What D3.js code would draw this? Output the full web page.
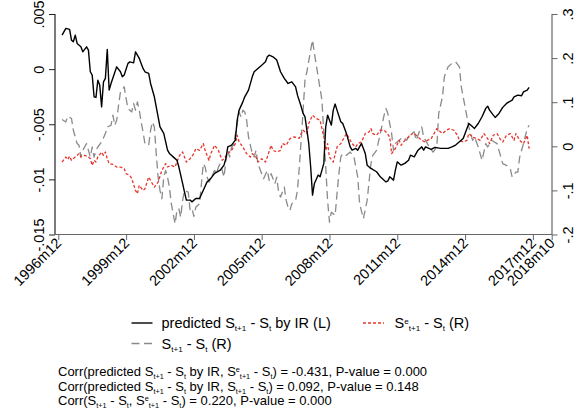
<!DOCTYPE html>
<html>
<head>
<meta charset="utf-8">
<script src="https://cdn.jsdelivr.net/npm/d3@7"></script>
<style>
  body { margin: 0; background: #fff; }
  svg { display: block; }
  text { font-family: "Liberation Sans", Arial, Helvetica, sans-serif; fill: #000; }
</style>
</head>
<body>
<svg id="chart" width="584" height="415"></svg>
<script>
// Monthly dates are Stata %tm values (1960m1 = 0); 443 = 1996m12, 705 = 2018m10.

// predicted S(t+1) - S(t) by interest rates, left axis
const predicted = [
  [445,.00308],[447,.00369],[449,.00360],[450,.00263],[451,.00248],[452,.00308],[453,.00233],
  [455,.00202],[456,.00157],[458,.00202],[459,.00172],[460,-.00024],[461,-.00054],[462,-.00251],
  [463,-.00257],[464,-.00100],[465,-.00145],[466,-.00342],[467,-.00115],[468,-.00084],[469,.00179],
  [470,-.00190],[471,-.00130],[474,.00021],[476,-.00024],[477,-.00070],[478,-.00054],[480,.00052],
  [481,.00066],[483,.00057],[484,.00157],[486,.00097],[488,.00006],[489,-.00024],[491,-.00039],
  [492,-.00130],[494,-.00251],[495,-.00342],[497,-.00523],[499,-.00583],[501,-.00735],[502,-.00765],
  [504,-.00796],[506,-.00826],[507,-.00886],[509,-.01037],[510,-.01113],[511,-.01188],[513,-.01188],
  [514,-.01204],[516,-.01173],[518,-.01173],[520,-.01098],[522,-.01023],[524,-.00991],[526,-.00946],
  [529,-.00916],[531,-.00871],[532,-.00810],[533,-.00705],[535,-.00689],[537,-.00644],[538,-.00463],
  [539,-.00372],[541,-.00297],[542,-.00251],[544,-.00190],[546,-.00070],[547,-.00024],[549,.00006],
  [551,.00036],[553,.00066],[554,.00112],[555,.00127],[557,.00112],[559,.00082],[561,-.00024],
  [563,-.00084],[565,-.00130],[567,-.00115],[569,-.00161],[570,-.00236],[572,-.00342],[573,-.00402],
  [574,-.00433],[576,-.00674],[577,-.00886],[578,-.01143],[579,-.01037],[581,-.00961],[582,-.00977],
  [584,-.00855],[585,-.00523],[586,-.00417],[588,-.00508],[589,-.00372],[590,-.00317],[591,-.00372],
  [593,-.00478],[594,-.00492],[596,-.00583],[598,-.00705],[599,-.00735],[601,-.00719],[602,-.00735],
  [604,-.00674],[606,-.00765],[607,-.00871],[609,-.00901],[612,-.00931],[614,-.00977],[617,-.01023],
  [618,-.01014],[619,-.00977],[621,-.01007],[622,-.00916],[623,-.00841],[625,-.00871],[627,-.00855],
  [629,-.00826],[630,-.00780],[632,-.00796],[634,-.00735],[636,-.00705],[637,-.00735],[638,-.00705],
  [641,-.00728],[643,-.00710],[646,-.00719],[650,-.00719],[652,-.00705],[654,-.00689],[656,-.00659],
  [658,-.00629],[659,-.00583],[661,-.00493],[663,-.00523],[664,-.00538],[666,-.00493],[668,-.00432],
  [670,-.00356],[671,-.00336],[672,-.00372],[674,-.00417],[675,-.00438],[677,-.00402],[679,-.00347],
  [681,-.00311],[684,-.00281],[685,-.00251],[687,-.00236],[689,-.00242],[690,-.00206],[692,-.00190],
  [693,-.00166]
];

// realised S(t+1) - S(t), right axis
const realised = [
  [445,.0607],[447,.0552],[448,.0682],[450,.0630],[451,.0364],[453,.0061],[454,.0023],[455,-.0243],
  [456,-.0091],[458,.0061],[459,-.0091],[460,-.0243],[461,-.0016],[462,-.0243],[463,-.0091],
  [464,-.0016],[466,.0098],[468,.0289],[469,.0439],[471,.0477],[472,.0705],[473,.0477],[474,.0591],
  [475,.0932],[476,.1234],[478,.1348],[479,.1084],[480,.0857],[482,.0780],[483,.0971],[484,.0818],
  [485,.1007],[486,.0818],[487,.0552],[488,.0325],[489,.0061],[491,.0023],[492,.0364],[493,.0552],
  [494,.0439],[495,-.0166],[496,-.0698],[497,-.1000],[498,-.1189],[499,-.0698],[500,-.0546],
  [501,-.0698],[502,-.0925],[503,-.1302],[505,-.1757],[506,-.1455],[507,-.1416],[508,-.1607],
  [509,-.1227],[510,-.1000],[512,-.1039],[513,-.1455],[514,-.1416],[515,-.1591],[516,-.1380],
  [518,-.1302],[519,-.0848],[520,-.0393],[521,-.0471],[522,-.0698],[523,-.0811],[524,-.0734],
  [526,-.0546],[527,-.0621],[528,-.0471],[529,-.0393],[531,-.0698],[532,-.0318],[533,-.0091],
  [534,-.0243],[535,-.0016],[536,.0023],[538,.0516],[539,.0780],[540,.0666],[541,.0818],[542,.0780],
  [543,.0591],[544,.0211],[546,-.0166],[547,-.0243],[548,-.0091],[549,-.0393],[551,-.0621],
  [552,-.0734],[554,-.0546],[555,-.0773],[556,-.0621],[558,-.0848],[559,-.0698],[560,-.1039],
  [561,-.1152],[563,-.0925],[564,-.1227],[565,-.1380],[566,-.1455],[567,-.1302],[569,-.1227],
  [570,-.1000],[571,-.0471],[573,.0818],[574,.1500],[575,.1689],[577,.2182],[578,.2409],[579,.2107],
  [581,.1575],[583,.1046],[584,.0289],[585,-.0471],[586,-.1227],[587,-.1721],[588,-.1493],
  [589,-.1530],[590,-.1568],[591,-.1075],[592,-.0621],[593,-.0243],[594,-.0166],[596,-.0205],
  [598,-.0130],[600,-.0243],[602,-.0698],[603,-.1302],[605,-.1643],[607,-.1227],[609,-.0393],
  [610,-.0205],[612,-.0091],[614,.0289],[616,.0705],[617,.0857],[618,.0743],[620,.0289],[621,-.0091],
  [622,.0061],[624,.0136],[626,.0211],[628,.0136],[630,.0289],[632,.0325],[633,.0136],[635,.0364],
  [636,.0439],[637,.0211],[639,.0061],[640,-.0016],[642,-.0130],[644,-.0016],[645,.0743],[647,.1121],
  [648,.1575],[650,.1802],[652,.1880],[654,.1916],[656,.1802],[657,.1348],[659,.0893],[661,.0439],
  [663,.0136],[664,.0211],[666,-.0016],[668,-.0318],[670,.0061],[671,-.0016],[673,.0136],[676,.0061],
  [678,-.0243],[679,-.0393],[681,-.0432],[683,-.0507],[684,-.0698],[686,-.0584],[687,-.0584],
  [688,-.0243],[690,.0061],[692,.0402],[693,.0477]
];

// expected S^e(t+1) - S(t) from survey forecasts, right axis
const expected = [
  [445,-.0357],[447,-.0243],[448,-.0302],[449,-.0227],[450,-.0318],[452,-.0243],[454,-.0166],
  [455,-.0243],[457,-.0205],[459,-.0243],[460,-.0280],[461,-.0432],[462,-.0318],[463,-.0357],
  [464,-.0243],[466,-.0130],[467,-.0205],[468,-.0130],[469,-.0280],[470,-.0393],[472,-.0409],
  [474,-.0470],[476,-.0470],[478,-.0507],[479,-.0621],[481,-.0659],[482,-.0734],[484,-.1000],
  [485,-.1075],[486,-.0886],[488,-.1000],[489,-.0962],[491,-.0698],[493,-.0848],[494,-.0925],
  [496,-.0811],[498,-.0546],[500,-.0393],[501,-.0470],[503,-.0432],[505,-.0470],[507,-.0243],
  [508,-.0166],[509,-.0130],[511,-.0357],[513,-.0280],[515,-.0166],[516,-.0052],[518,-.0091],
  [520,.0061],[521,-.0091],[523,-.0318],[524,-.0166],[526,.0023],[528,-.0091],[530,-.0318],
  [531,-.0280],[533,-.0166],[535,-.0091],[537,.0061],[538,.0250],[539,.0098],[541,-.0016],
  [543,-.0166],[545,-.0243],[546,-.0166],[548,-.0243],[549,-.0357],[551,-.0280],[553,-.0357],
  [554,-.0243],[556,.0023],[557,-.0091],[559,-.0130],[561,-.0091],[562,.0061],[564,.0023],
  [566,.0175],[568,.0211],[569,.0205],[571,.0182],[572,.0289],[573,.0364],[575,.0289],[576,.0516],
  [578,.0705],[580,.0630],[582,.0591],[584,.0211],[585,-.0091],[586,.0061],[587,-.0243],[589,-.0357],
  [591,-.0016],[593,.0061],[594,.0136],[596,.0289],[598,.0136],[599,.0061],[601,-.0016],[602,.0061],
  [604,.0098],[606,.0289],[608,.0325],[609,.0402],[610,.0289],[612,.0250],[614,.0364],[616,.0364],
  [617,.0325],[619,.0211],[620,-.0166],[622,-.0052],[624,.0136],[625,.0023],[627,.0136],[629,.0211],
  [631,.0289],[632,.0289],[634,.0211],[636,.0136],[638,.0098],[639,.0136],[641,.0175],[644,.0402],
  [646,.0325],[647,.0289],[649,.0364],[651,.0402],[653,.0364],[655,.0250],[656,.0136],[658,.0098],
  [660,.0136],[661,.0289],[663,.0211],[665,.0175],[667,.0136],[669,.0289],[671,.0175],[672,.0061],
  [674,.0250],[676,.0289],[678,.0136],[679,.0098],[681,.0250],[683,.0289],[685,.0136],[686,.0289],
  [688,.0136],[690,.0061],[692,.0250],[693,-.0052]
];

// axis ticks
const xTickDates  = [443, 479, 515, 551, 587, 623, 659, 695, 705];
const xTickLabels = ["1996m12","1999m12","2002m12","2005m12","2008m12","2011m12","2014m12","2017m12","2018m10"];
const yLeftTicks  = [0.005, 0, -0.005, -0.01, -0.015];
const yLeftLabels = [".005", "0", "-.005", "-.01", "-.015"];
const yRightTicks  = [0.3, 0.2, 0.1, 0, -0.1, -0.2];
const yRightLabels = [".3", ".2", ".1", "0", "-.1", "-.2"];

// legend entries and correlation notes (_{..} subscript, ^{..} superscript)
const legendItems = [
  { text: "predicted S_{t+1} - S_{t} by IR (L)", kind: "pred" },
  { text: "S^{e}_{t+1} - S_{t} (R)", kind: "exp" },
  { text: "S_{t+1} - S_{t} (R)", kind: "real" }
];
const noteLines = [
  "Corr(predicted S_{t+1} - S_{t} by IR, S^{e}_{t+1} - S_{t}) = -0.431, P-value = 0.000",
  "Corr(predicted S_{t+1} - S_{t} by IR, S_{t+1} - S_{t}) = 0.092, P-value = 0.148",
  "Corr(S_{t+1} - S_{t}, S^{e}_{t+1} - S_{t}) = 0.220, P-value = 0.000"
];

const styles = {
  pred: { stroke: "#000000", width: 1.4, dash: null },
  real: { stroke: "#8a8a8a", width: 1.3, dash: "8,4.5" },
  exp:  { stroke: "#e8352b", width: 1.3, dash: "3,2" }
};

const svg = d3.select("#chart");
const plot = { left: 55, right: 552, top: 14, bottom: 234.5 };

const x = d3.scaleLinear().domain([443, 705]).range([58.3, 551.7]);
const yL = d3.scaleLinear().domain([-0.015, 0.005]).range([plot.bottom, plot.top]);
const yR = d3.scaleLinear().domain([-0.2, 0.3]).range([plot.bottom, plot.top]);

// series
const lineL = d3.line().x(d => x(d[0])).y(d => yL(d[1]));
const lineR = d3.line().x(d => x(d[0])).y(d => yR(d[1]));

function drawSeries(data, gen, st) {
  svg.append("path").datum(data)
    .attr("d", gen)
    .attr("fill", "none")
    .attr("stroke", st.stroke)
    .attr("stroke-width", st.width)
    .attr("stroke-dasharray", st.dash)
    .attr("stroke-linejoin", "round");
}
drawSeries(realised, lineR, styles.real);
drawSeries(expected, lineR, styles.exp);
drawSeries(predicted, lineL, styles.pred);

// axes
const fs = 14.5;
const axL = svg.append("g").attr("transform", `translate(${plot.left},0)`)
  .call(d3.axisLeft(yL).tickValues(yLeftTicks).tickFormat((d, i) => yLeftLabels[i]).tickSize(6).tickSizeOuter(0));
const axR = svg.append("g").attr("transform", `translate(${plot.right},0)`)
  .call(d3.axisRight(yR).tickValues(yRightTicks).tickFormat((d, i) => yRightLabels[i]).tickSize(5.5).tickSizeOuter(0));
const axB = svg.append("g").attr("transform", `translate(0,${plot.bottom})`)
  .call(d3.axisBottom(x).tickValues(xTickDates).tickFormat((d, i) => xTickLabels[i]).tickSize(5.5).tickSizeOuter(0));

[axL, axR, axB].forEach(a => {
  a.select(".domain").remove();
  a.selectAll("text").style("font-size", fs + "px").attr("fill", "#000");
  a.selectAll("line").attr("stroke-width", 1);
});
axL.selectAll("line").attr("stroke", "#222");
axR.selectAll("line").attr("stroke", "#666");
axB.selectAll("line").attr("stroke", "#666");

axL.selectAll("text").attr("x", null).attr("dy", null).attr("text-anchor", "middle")
  .attr("transform", "translate(-11.5,0) rotate(-90)");
axR.selectAll("text").attr("x", null).attr("dy", null).attr("text-anchor", "middle")
  .attr("transform", "translate(21,0) rotate(-90)");
axB.selectAll("text").attr("y", null).attr("dy", null).attr("text-anchor", "end")
  .attr("transform", "translate(3.5,9.5) rotate(-45)");

// axis lines
svg.append("line").attr("x1", plot.left).attr("x2", plot.left).attr("y1", plot.top).attr("y2", plot.bottom)
  .attr("stroke", "#222").attr("stroke-width", 1.2);
svg.append("line").attr("x1", plot.right).attr("x2", plot.right).attr("y1", plot.top).attr("y2", plot.bottom)
  .attr("stroke", "#666").attr("stroke-width", 1.2);
svg.append("line").attr("x1", plot.left).attr("x2", plot.right).attr("y1", plot.bottom).attr("y2", plot.bottom)
  .attr("stroke", "#666").attr("stroke-width", 1.2);

// text with sub/superscripts
function parseRich(s) {
  const parts = [];
  const re = /([_^])\{([^}]*)\}/g;
  let last = 0, m;
  while ((m = re.exec(s))) {
    if (m.index > last) parts.push({ t: s.slice(last, m.index), k: 0 });
    parts.push({ t: m[2], k: m[1] === "_" ? 1 : -1 });
    last = re.lastIndex;
  }
  if (last < s.length) parts.push({ t: s.slice(last), k: 0 });
  return parts;
}
function richText(px, py, str, size) {
  const t = svg.append("text").attr("x", px).attr("y", py)
    .style("font-size", size + "px").style("white-space", "pre");
  let shift = 0;
  parseRich(str).forEach(p => {
    const target = p.k === 1 ? size * 0.24 : p.k === -1 ? -size * 0.3 : 0;
    const ts = t.append("tspan").text(p.t).attr("dy", target - shift);
    if (p.k !== 0) ts.style("font-size", (size * 0.56) + "px");
    shift = target;
  });
  return t;
}

// legend
const legendPos = {
  pred: { sx: 131.5, tx: 161.5, y: 323 },
  exp:  { sx: 363,   tx: 394.5, y: 323 },
  real: { sx: 131.5, tx: 161.5, y: 343.5 }
};
legendItems.forEach(it => {
  const p = legendPos[it.kind], st = styles[it.kind];
  svg.append("line").attr("x1", p.sx).attr("x2", p.sx + 21).attr("y1", p.y).attr("y2", p.y)
    .attr("stroke", st.stroke).attr("stroke-width", st.width).attr("stroke-dasharray", st.dash);
  richText(p.tx, p.y + 5, it.text, 14.5);
});

// correlation notes
noteLines.forEach((s, i) => richText(58, 376 + i * 14.5, s, 13));
</script>
</body>
</html>
